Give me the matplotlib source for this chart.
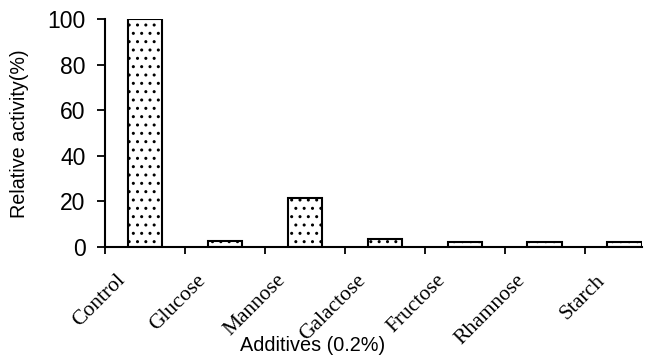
import matplotlib
matplotlib.use("Agg")
import matplotlib.pyplot as plt
import matplotlib.transforms as mtransforms
import numpy as np

categories = ["Control", "Glucose", "Mannose", "Galactose", "Fructose", "Rhamnose", "Starch"]
activity = [100, 2.6, 21.4, 3.6, 2.1, 2.1, 2.1]
yticks = [0, 20, 40, 60, 80, 100]

plt.rcParams['hatch.linewidth'] = 1.0
plt.rcParams['hatch.color'] = '#444444'
fig = plt.figure(figsize=(6.6, 3.58), dpi=100)
ax = fig.add_axes([0.159, 0.31, 0.814, 0.637])

x = np.arange(len(categories))
ax.bar(x, activity, width=0.43, color="white", edgecolor="black", linewidth=1.5, hatch="..")

ax.set_xlim(-0.5, 6.22)
ax.set_ylim(0, 100)
ax.set_yticks(yticks)
ax.set_yticklabels([str(v) for v in yticks], fontfamily="Liberation Sans", fontsize=16.5)
ax.tick_params(axis='y', direction='out', length=6, width=1.3, pad=8)

ax.set_xticks(x)
ax.set_xticklabels(categories, rotation=45, ha='right', va='center', rotation_mode='anchor',
                   fontfamily="Liberation Serif", fontsize=15.5)
ax.tick_params(axis='x', which='major', length=0, pad=22)
offset = mtransforms.ScaledTranslation(-0.22, 0, fig.dpi_scale_trans)
for lab in ax.get_xticklabels():
    lab.set_transform(lab.get_transform() + offset)
ax.set_xticks(np.arange(-0.5, 6.0, 1.0), minor=True)
ax.tick_params(axis='x', which='minor', direction='out', length=5, width=1.3)

for s in ["top", "right"]:
    ax.spines[s].set_visible(False)
for s in ["left", "bottom"]:
    ax.spines[s].set_linewidth(1.5)

fig.text(0.029, 0.626, "Relative activity(%)", rotation=90, ha='center', va='center',
         fontfamily="Liberation Sans", fontsize=14.2)
fig.text(0.473, 0.036, "Additives (0.2%)", ha='center', va='center',
         fontfamily="Liberation Sans", fontsize=14.3)

fig.savefig("out.png", dpi=100)
